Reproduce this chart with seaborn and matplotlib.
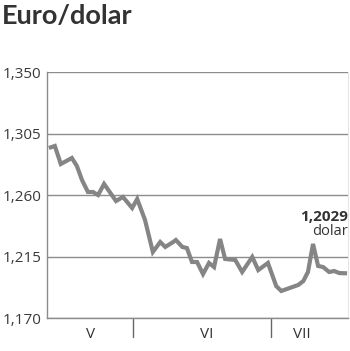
import matplotlib
matplotlib.use("Agg")
import matplotlib.pyplot as plt
import seaborn as sns
import pandas as pd

# day number (1 = 1 May) and EUR/USD rate
dni = [13.7, 15.0, 16.3, 18.7, 19.8, 20.9, 22.2, 23.3, 24.4, 25.7, 28.3, 29.8,
       31.8, 32.9, 34.6, 36.3, 37.9, 39.0, 40.7, 41.3, 42.7, 43.7, 44.8, 45.9,
       47.2, 48.5, 49.6, 50.9, 52.0, 54.2, 55.7, 57.9, 59.2, 61.3, 63.1, 64.2,
       67.9, 69.0, 70.0, 71.1, 72.2, 73.3, 74.6, 75.7, 76.8, 78.5]
kurs = [1.2946, 1.2961, 1.2829, 1.2873, 1.2814, 1.2712, 1.2624, 1.2624, 1.2602,
        1.2683, 1.2558, 1.2588, 1.2507, 1.2573, 1.2419, 1.2185, 1.2258, 1.2222,
        1.2258, 1.2273, 1.2222, 1.2214, 1.2112, 1.2112, 1.2024, 1.2105, 1.2075,
        1.2280, 1.2134, 1.2127, 1.2039, 1.2149, 1.2053, 1.2105, 1.1936, 1.1900,
        1.1944, 1.1973, 1.2039, 1.2244, 1.2083, 1.2075, 1.2039, 1.2046, 1.2031,
        1.2029]

y_ticks = [1.170, 1.215, 1.260, 1.305, 1.350]
y_labels = ["1,170", "1,215", "1,260", "1,305", "1,350"]
month_bounds = [32, 62]
month_names = ["V", "VI", "VII"]
month_label_pos = [22.7, 48.1, 68.7]
last_label = "1,2029"
unit_label = "dolar"
title = "Euro/dolar"

sns.set_style("white")
plt.rcParams["font.family"] = ["Open Sans", "DejaVu Sans"]

df = pd.DataFrame({"dzien": dni, "kurs": kurs})

fig = plt.figure(figsize=(3.5, 3.51), dpi=100)
ax = fig.add_axes([47/350, 1 - 318.3/351, 301/350, (318.3 - 72.3)/351])

sns.lineplot(data=df, x="dzien", y="kurs", ax=ax, color="#858585",
             linewidth=3.0, solid_joinstyle="miter", solid_capstyle="butt")

ax.set_xlim(13.3, 78.7)
ax.set_ylim(1.170, 1.350)
ax.set_yticks(y_ticks)
ax.set_yticklabels(y_labels)
ax.yaxis.grid(True, color="#8c8c8c", linewidth=1.0)
ax.set_axisbelow(True)
ax.tick_params(axis="y", length=0, pad=4, labelsize=11, labelcolor="#3a3a3a")
ax.set_xticks([])
ax.set_xlabel("")
ax.set_ylabel("")

ax.spines["top"].set_visible(False)
ax.spines["left"].set_color("#8c8c8c")
ax.spines["left"].set_linewidth(1.0)
ax.spines["bottom"].set_color("#8c8c8c")
ax.spines["bottom"].set_linewidth(1.0)
ax.spines["right"].set_color("#e6e6e6")
ax.spines["right"].set_linewidth(0.8)

trans = ax.get_xaxis_transform()
for b in month_bounds:
    ax.plot([b, b], [0, -0.075], transform=trans, color="#666666",
            linewidth=1.0, clip_on=False)
for p, n in zip(month_label_pos, month_names):
    ax.text(p, -0.065, n, transform=trans, ha="center", va="center",
            fontsize=11, color="#333333")

ax.text(1.0, 0.41, last_label, transform=ax.transAxes, ha="right",
        va="center", fontsize=11, fontweight="bold", color="#333333")
ax.text(1.0, 0.352, unit_label, transform=ax.transAxes, ha="right",
        va="center", fontsize=10.5, color="#333333")

fig.text(2/350, 1 - 16/351, title, ha="left", va="center",
         fontsize=19.5, fontweight="bold", color="#333333",
         family=["Lato", "DejaVu Sans"])

fig.savefig("out.png", dpi=100)
